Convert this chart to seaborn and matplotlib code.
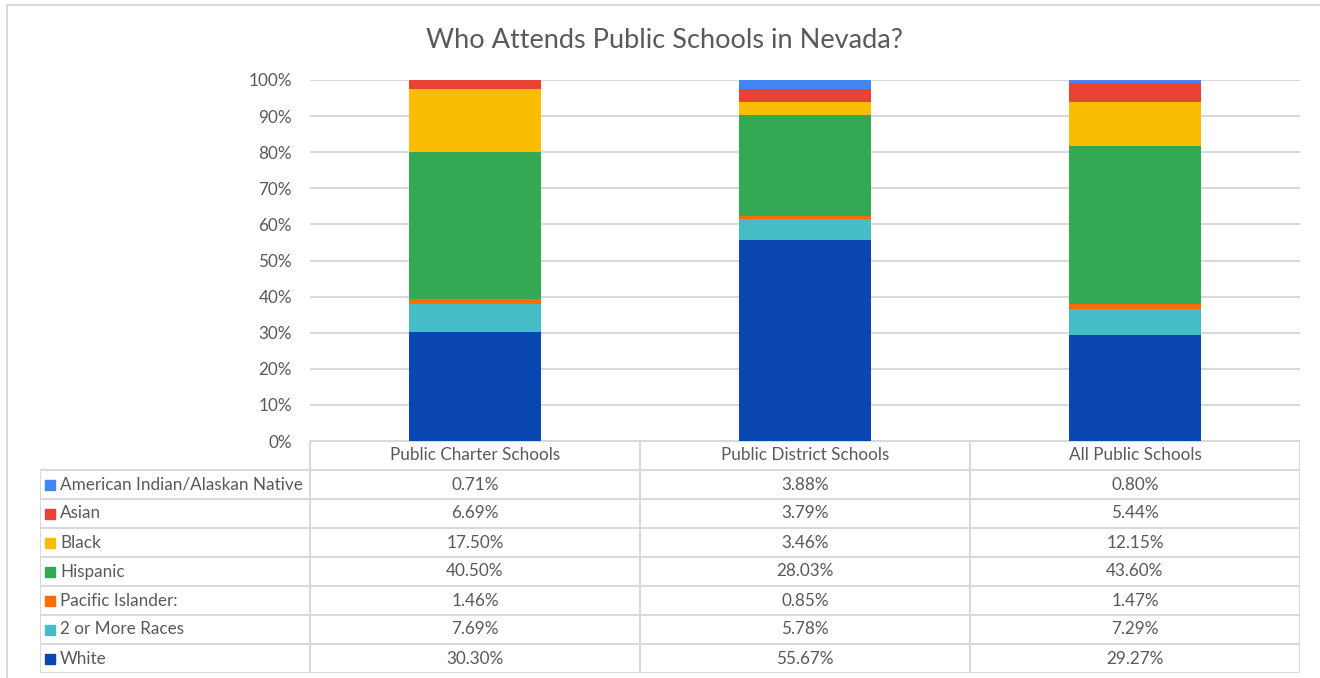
import matplotlib
matplotlib.use("Agg")
import matplotlib.pyplot as plt
import matplotlib.lines as mlines
import matplotlib.ticker as mticker
import seaborn as sns
import pandas as pd

schools = ["Public Charter Schools", "Public District Schools", "All Public Schools"]
races = ["American Indian/Alaskan Native", "Asian", "Black", "Hispanic",
         "Pacific Islander:", "2 or More Races", "White"]
american_indian = [0.71, 3.88, 0.80]
asian = [6.69, 3.79, 5.44]
black = [17.50, 3.46, 12.15]
hispanic = [40.50, 28.03, 43.60]
pacific = [1.46, 0.85, 1.47]
two_more = [7.69, 5.78, 7.29]
white = [30.30, 55.67, 29.27]
colors = ["#4285f4", "#ea4335", "#fbbc04", "#34a853", "#ff6d01", "#46bdc6", "#0b47b1"]

values = [american_indian, asian, black, hispanic, pacific, two_more, white]

sns.set_theme(style="white")
plt.rcParams["font.family"] = ["Lato", "DejaVu Sans"]
txt = "#595959"
grid = "#d9d9d9"

# stacked bars: draw cumulative totals, largest first
rows = []
for i, s in enumerate(schools):
    cum = 0
    for r in range(len(races) - 1, -1, -1):
        cum += values[r][i]
        rows.append({"School": s, "Race": races[r], "cum": cum, "val": values[r][i]})
df = pd.DataFrame(rows)

W, H = 1320, 678
fig = plt.figure(figsize=(W / 100, H / 100), dpi=100)
# chart frame (only top and left edges show in the screenshot)
fig.lines.append(mlines.Line2D([7 / W, 7 / W, 1], [0, 1 - 5 / H, 1 - 5 / H],
                               transform=fig.transFigure, color=grid, lw=1.5))

ax = fig.add_axes([310 / W, 1 - 441 / H, 990 / W, 361 / H])
sns.barplot(data=df, x="School", y="cum", hue="Race", hue_order=races, order=schools,
            palette=colors, dodge=False, width=0.4, saturation=1, linewidth=0,
            legend=False, ax=ax)
ax.set_ylim(0, 100)
ax.set_xlim(-0.5, 2.5)
ax.yaxis.set_major_locator(mticker.MultipleLocator(10))
ax.yaxis.set_major_formatter(mticker.FuncFormatter(lambda v, p: f"{v:.0f}%"))
ax.grid(axis="y", color=grid, lw=1.5)
ax.set_axisbelow(True)
for sp in ax.spines.values():
    sp.set_visible(False)
ax.set_xlabel("")
ax.set_ylabel("")
ax.set_xticks([])
ax.tick_params(axis="y", length=0, pad=13, labelsize=12.3, labelcolor=txt)
fig.text(665 / W, 1 - 40 / H, "Who Attends Public Schools in Nevada?", fontsize=19.5,
         color=txt, ha="center", va="center")

# data table underneath
lab_w = 270 / 330
tab = fig.add_axes([40 / W, 1 - 673 / H, 1260 / W, 232 / H])
tab.set_xlim(-lab_w, 3)
tab.set_ylim(8, 0)
tab.axis("off")
lk = dict(color=grid, lw=1.5, solid_capstyle="butt")
tab.plot([0, 3], [0, 0], **lk)
for y in range(1, 9):
    tab.plot([-lab_w, 3], [y, y], **lk)
tab.plot([-lab_w, -lab_w], [1, 8], **lk)
for x in range(4):
    tab.plot([x, x], [0, 8], **lk)
for i, s in enumerate(schools):
    tab.text(i + 0.5, 0.5, s, ha="center", va="center", fontsize=12.3, color=txt)
for r, race in enumerate(races):
    y = r + 1.5
    tab.plot([-lab_w + 10 / 330], [y], marker="s", ms=7, color=colors[r], lw=0)
    tab.text(-lab_w + 20 / 330, y, race, ha="left", va="center", fontsize=12.3, color=txt)
    for i in range(len(schools)):
        tab.text(i + 0.5, y, f"{values[r][i]:.2f}%", ha="center", va="center",
                 fontsize=12.3, color=txt)

fig.savefig("out.png", dpi=100)
